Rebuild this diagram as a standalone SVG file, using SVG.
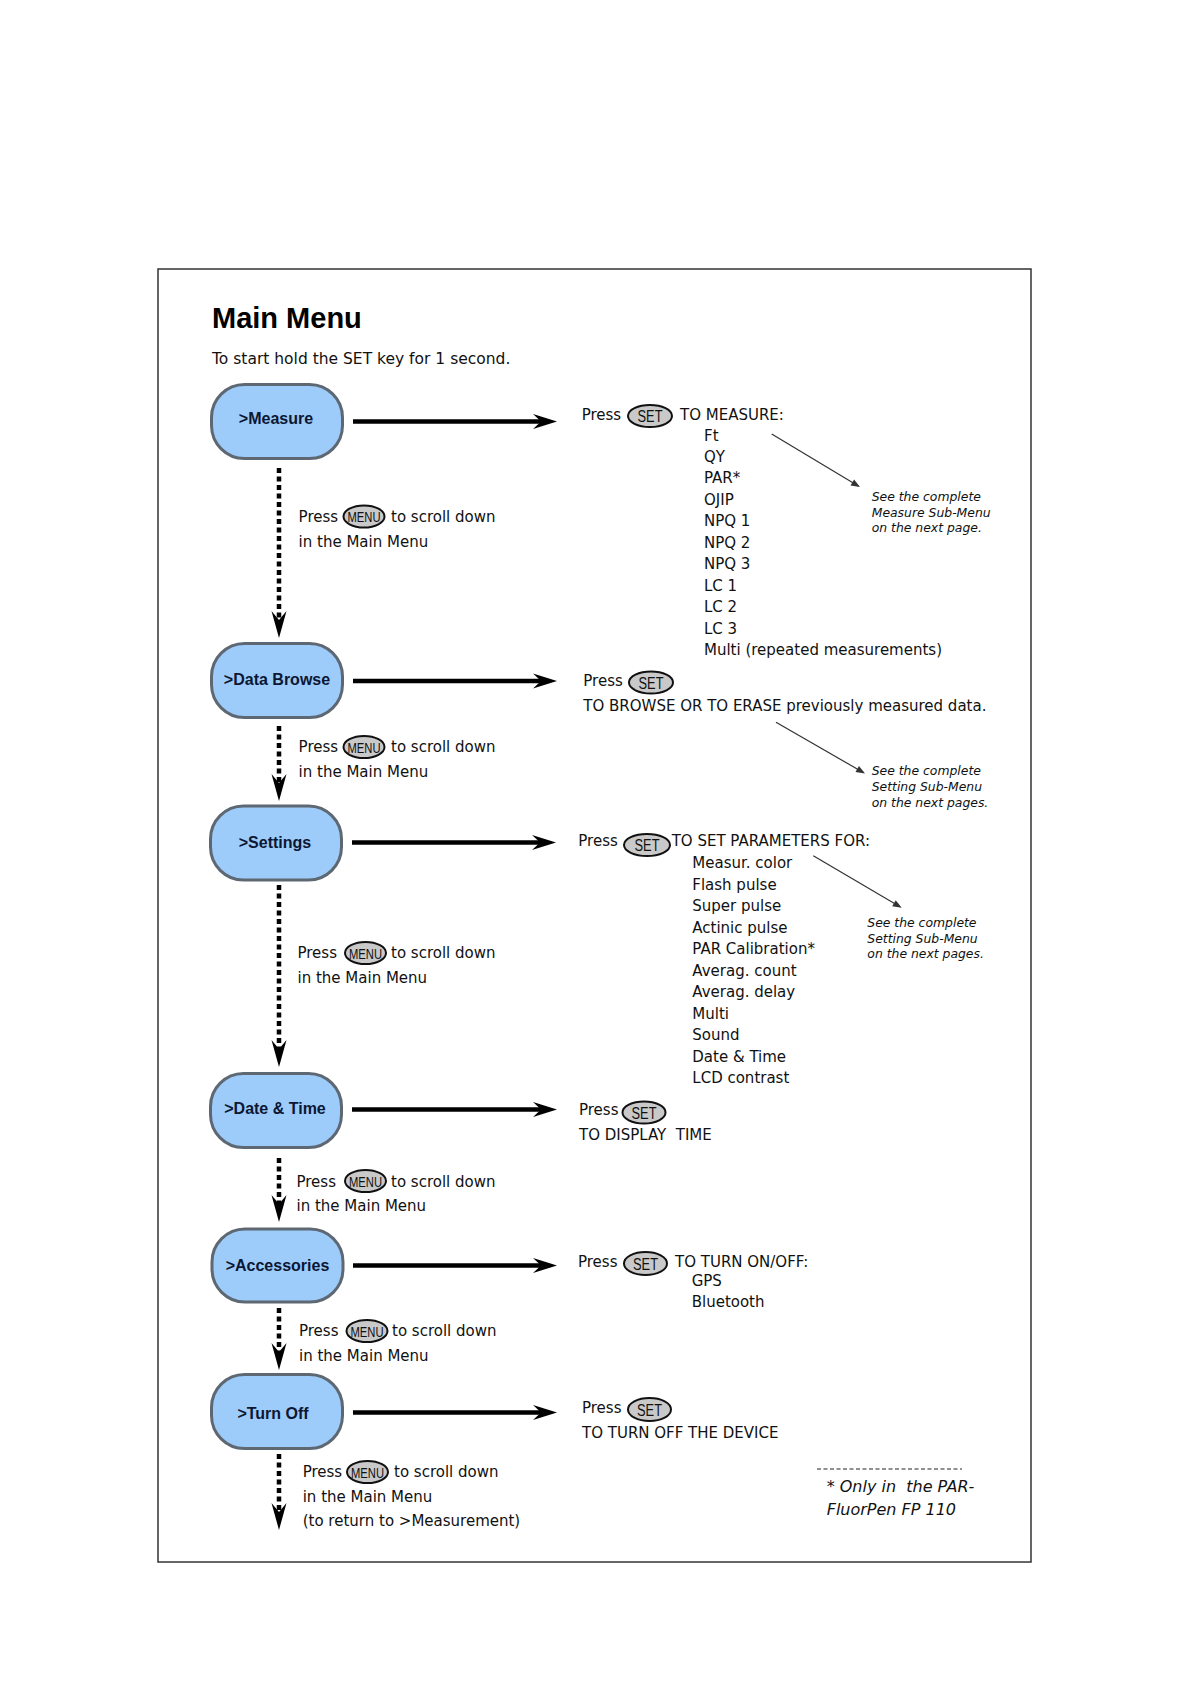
<svg xmlns="http://www.w3.org/2000/svg" width="1191" height="1684" viewBox="0 0 1191 1684">
<style>
.t{font-family:"DejaVu Sans","Verdana",sans-serif;font-size:15px;fill:#111}
.note{font-family:"DejaVu Sans","Verdana",sans-serif;font-size:12.4px;font-style:italic;fill:#111}
.foot{font-family:"DejaVu Sans","Verdana",sans-serif;font-size:16px;font-style:italic;fill:#111}
.node rect{fill:#9dcbfa;stroke:#5d6873;stroke-width:3}
.lbl{font-family:"Liberation Sans","Arial",sans-serif;font-weight:bold;font-size:16px;fill:#0c1733;text-anchor:middle}
.key ellipse{fill:#c9c9c9;stroke:#111;stroke-width:2}
.key text{font-family:"Liberation Sans","Arial",sans-serif;font-size:16px;fill:#111;text-anchor:middle}
.key text.m{font-size:15px}
.h{stroke:#000;stroke-width:4.5;fill:none}
.v{stroke:#000;stroke-width:4.5;stroke-dasharray:5 3.5;fill:none}
.p{stroke:#333;stroke-width:1.2;fill:none}
</style>
<defs>
<marker id="ah" markerUnits="userSpaceOnUse" markerWidth="30" markerHeight="20" viewBox="-26 -10 28 20" refX="-16" refY="0" orient="auto"><path d="M0,0 L-24,-7.5 L-16,0 L-24,7.5 Z" fill="#000"/></marker>
<marker id="av" markerUnits="userSpaceOnUse" markerWidth="30" markerHeight="20" viewBox="-28 -10 30 20" refX="-18" refY="0" orient="auto"><path d="M0,0 L-27,-7.5 L-18,0 L-27,7.5 Z" fill="#000"/></marker>
<marker id="ap" markerUnits="userSpaceOnUse" markerWidth="12" markerHeight="10" viewBox="-10 -5 11 10" refX="-2" refY="0" orient="auto"><path d="M0,0 L-9,-3.5 L-9,3.5 Z" fill="#333"/></marker>
</defs>
<rect x="158" y="269" width="873" height="1293" fill="none" stroke="#333" stroke-width="1.5"/>
<text x="212" y="328" style="font-family:'Liberation Sans',Arial,sans-serif;font-weight:bold;font-size:29px;fill:#000">Main Menu</text>
<text x="212" y="364" class="t" style="font-size:15.5px">To start hold the SET key for 1 second.</text>

<g id="connectors">
<line class="h" x1="353" y1="421.5" x2="541" y2="421.5" marker-end="url(#ah)"/>
<line class="h" x1="353" y1="681" x2="541" y2="681" marker-end="url(#ah)"/>
<line class="h" x1="352" y1="842.5" x2="540" y2="842.5" marker-end="url(#ah)"/>
<line class="h" x1="352" y1="1109.5" x2="541" y2="1109.5" marker-end="url(#ah)"/>
<line class="h" x1="353" y1="1265.5" x2="541" y2="1265.5" marker-end="url(#ah)"/>
<line class="h" x1="353" y1="1412.5" x2="541" y2="1412.5" marker-end="url(#ah)"/>
<line class="v" x1="279" y1="468" x2="279" y2="620" marker-end="url(#av)"/>
<line class="v" x1="279" y1="726" x2="279" y2="783" marker-end="url(#av)"/>
<line class="v" x1="279" y1="885" x2="279" y2="1049" marker-end="url(#av)"/>
<line class="v" x1="279" y1="1158" x2="279" y2="1204" marker-end="url(#av)"/>
<line class="v" x1="279" y1="1308" x2="279" y2="1352" marker-end="url(#av)"/>
<line class="v" x1="279" y1="1454" x2="279" y2="1512" marker-end="url(#av)"/>
<line class="p" x1="771.7" y1="434" x2="858.3" y2="486" marker-end="url(#ap)"/>
<line class="p" x1="776" y1="722.3" x2="863.3" y2="772.5" marker-end="url(#ap)"/>
<line class="p" x1="813.3" y1="855.7" x2="900" y2="906.7" marker-end="url(#ap)"/>
</g>

<g id="node-measure" class="node"><rect x="211.5" y="384.5" width="131" height="74" rx="33"/><text class="lbl" x="276" y="423.5">&gt;Measure</text></g>
<g id="node-databrowse" class="node"><rect x="211.5" y="643.5" width="131" height="74" rx="33"/><text class="lbl" x="277" y="684.5">&gt;Data Browse</text></g>
<g id="node-settings" class="node"><rect x="210.5" y="806" width="131" height="74" rx="33"/><text class="lbl" x="275" y="847.5">&gt;Settings</text></g>
<g id="node-datetime" class="node"><rect x="210.5" y="1073.5" width="131" height="74" rx="33"/><text class="lbl" x="275" y="1114">&gt;Date &amp; Time</text></g>
<g id="node-accessories" class="node"><rect x="212" y="1229" width="131" height="73" rx="33"/><text class="lbl" x="277.5" y="1270.5">&gt;Accessories</text></g>
<g id="node-turnoff" class="node"><rect x="211.5" y="1374.5" width="131" height="74" rx="33"/><text class="lbl" x="273" y="1419">&gt;Turn Off</text></g>

<g id="menu-hints">
<text class="t" x="298.6" y="522">Press</text><g class="key"><ellipse cx="364" cy="516.5" rx="20.5" ry="11"/><text class="m" x="364" y="522" textLength="33" lengthAdjust="spacingAndGlyphs">MENU</text></g><text class="t" x="391" y="522">to scroll down</text>
<text class="t" x="298.6" y="547">in the Main Menu</text>
<text class="t" x="298.6" y="752">Press</text><g class="key"><ellipse cx="364" cy="747" rx="20.5" ry="11"/><text class="m" x="364" y="752.5" textLength="33" lengthAdjust="spacingAndGlyphs">MENU</text></g><text class="t" x="391" y="752">to scroll down</text>
<text class="t" x="298.6" y="777">in the Main Menu</text>
<text class="t" x="297.5" y="958">Press</text><g class="key"><ellipse cx="365.5" cy="953" rx="20.5" ry="11"/><text class="m" x="365.5" y="958.5" textLength="33" lengthAdjust="spacingAndGlyphs">MENU</text></g><text class="t" x="391" y="958">to scroll down</text>
<text class="t" x="297.5" y="983">in the Main Menu</text>
<text class="t" x="296.5" y="1187">Press</text><g class="key"><ellipse cx="365.5" cy="1181" rx="20.5" ry="11"/><text class="m" x="365.5" y="1186.5" textLength="33" lengthAdjust="spacingAndGlyphs">MENU</text></g><text class="t" x="391" y="1187">to scroll down</text>
<text class="t" x="296.5" y="1211">in the Main Menu</text>
<text class="t" x="299" y="1336">Press</text><g class="key"><ellipse cx="367" cy="1331" rx="20.5" ry="11"/><text class="m" x="367" y="1336.5" textLength="33" lengthAdjust="spacingAndGlyphs">MENU</text></g><text class="t" x="392" y="1336">to scroll down</text>
<text class="t" x="299" y="1361">in the Main Menu</text>
<text class="t" x="302.7" y="1477">Press</text><g class="key"><ellipse cx="367.5" cy="1472" rx="20.5" ry="11"/><text class="m" x="367.5" y="1477.5" textLength="33" lengthAdjust="spacingAndGlyphs">MENU</text></g><text class="t" x="394" y="1477">to scroll down</text>
<text class="t" x="302.7" y="1502">in the Main Menu</text>
<text class="t" x="302.7" y="1526">(to return to &gt;Measurement)</text>
</g>

<g id="measure-detail">
<text class="t" x="581.7" y="420">Press</text><g class="key"><ellipse cx="650" cy="416" rx="22" ry="11"/><text x="650" y="422" textLength="25" lengthAdjust="spacingAndGlyphs">SET</text></g><text class="t" x="680" y="420">TO MEASURE:</text>
<text class="t" x="704" y="440.5">Ft</text>
<text class="t" x="704" y="462">QY</text>
<text class="t" x="704" y="483.4">PAR*</text>
<text class="t" x="704" y="504.9">OJIP</text>
<text class="t" x="704" y="526.3">NPQ 1</text>
<text class="t" x="704" y="547.8">NPQ 2</text>
<text class="t" x="704" y="569.2">NPQ 3</text>
<text class="t" x="704" y="590.7">LC 1</text>
<text class="t" x="704" y="612.1">LC 2</text>
<text class="t" x="704" y="633.6">LC 3</text>
<text class="t" x="704" y="655">Multi (repeated measurements)</text>
<text class="note" x="871.7" y="500.7">See the complete</text>
<text class="note" x="871.7" y="516.7">Measure Sub-Menu</text>
<text class="note" x="871.7" y="532">on the next page.</text>
</g>

<g id="databrowse-detail">
<text class="t" x="583.3" y="686">Press</text><g class="key"><ellipse cx="651" cy="682.5" rx="22" ry="11"/><text x="651" y="688.5" textLength="25" lengthAdjust="spacingAndGlyphs">SET</text></g>
<text class="t" x="583.3" y="710.7">TO BROWSE OR TO ERASE previously measured data.</text>
<text class="note" x="871.7" y="775">See the complete</text>
<text class="note" x="871.7" y="791">Setting Sub-Menu</text>
<text class="note" x="871.7" y="806.5">on the next pages.</text>
</g>

<g id="settings-detail">
<text class="t" x="578.3" y="846">Press</text><g class="key"><ellipse cx="647" cy="845" rx="23" ry="11"/><text x="647" y="851" textLength="25" lengthAdjust="spacingAndGlyphs">SET</text></g><text class="t" x="671.7" y="846">TO SET PARAMETERS FOR:</text>
<text class="t" x="692.3" y="868.3">Measur. color</text>
<text class="t" x="692.3" y="889.8">Flash pulse</text>
<text class="t" x="692.3" y="911.3">Super pulse</text>
<text class="t" x="692.3" y="932.8">Actinic pulse</text>
<text class="t" x="692.3" y="954.3">PAR Calibration*</text>
<text class="t" x="692.3" y="975.8">Averag. count</text>
<text class="t" x="692.3" y="997.3">Averag. delay</text>
<text class="t" x="692.3" y="1018.8">Multi</text>
<text class="t" x="692.3" y="1040.3">Sound</text>
<text class="t" x="692.3" y="1061.8">Date &amp; Time</text>
<text class="t" x="692.3" y="1083.3">LCD contrast</text>
<text class="note" x="867.3" y="926.5">See the complete</text>
<text class="note" x="867.3" y="942.5">Setting Sub-Menu</text>
<text class="note" x="867.3" y="958">on the next pages.</text>
</g>

<g id="datetime-detail">
<text class="t" x="579" y="1115">Press</text><g class="key"><ellipse cx="644" cy="1112.5" rx="21.5" ry="11"/><text x="644" y="1118.5" textLength="25" lengthAdjust="spacingAndGlyphs">SET</text></g>
<text class="t" x="579" y="1140" xml:space="preserve">TO DISPLAY  TIME</text>
</g>

<g id="accessories-detail">
<text class="t" x="578" y="1266.7">Press</text><g class="key"><ellipse cx="645.5" cy="1263.5" rx="21.5" ry="11.5"/><text x="645.5" y="1269.5" textLength="25" lengthAdjust="spacingAndGlyphs">SET</text></g><text class="t" x="675" y="1266.7">TO TURN ON/OFF:</text>
<text class="t" x="691.7" y="1285.5">GPS</text>
<text class="t" x="691.7" y="1307">Bluetooth</text>
</g>

<g id="turnoff-detail">
<text class="t" x="582" y="1413">Press</text><g class="key"><ellipse cx="649.5" cy="1409.5" rx="21.5" ry="11.5"/><text x="649.5" y="1415.5" textLength="25" lengthAdjust="spacingAndGlyphs">SET</text></g>
<text class="t" x="582" y="1438.3">TO TURN OFF THE DEVICE</text>
</g>

<g id="footnote">
<line x1="817" y1="1469" x2="962" y2="1469" stroke="#222" stroke-width="1.2" stroke-dasharray="4 2.5"/>
<text class="foot" x="826.7" y="1491.7" xml:space="preserve">* Only in  the PAR-</text>
<text class="foot" x="826.7" y="1515">FluorPen FP 110</text>
</g>
</svg>
